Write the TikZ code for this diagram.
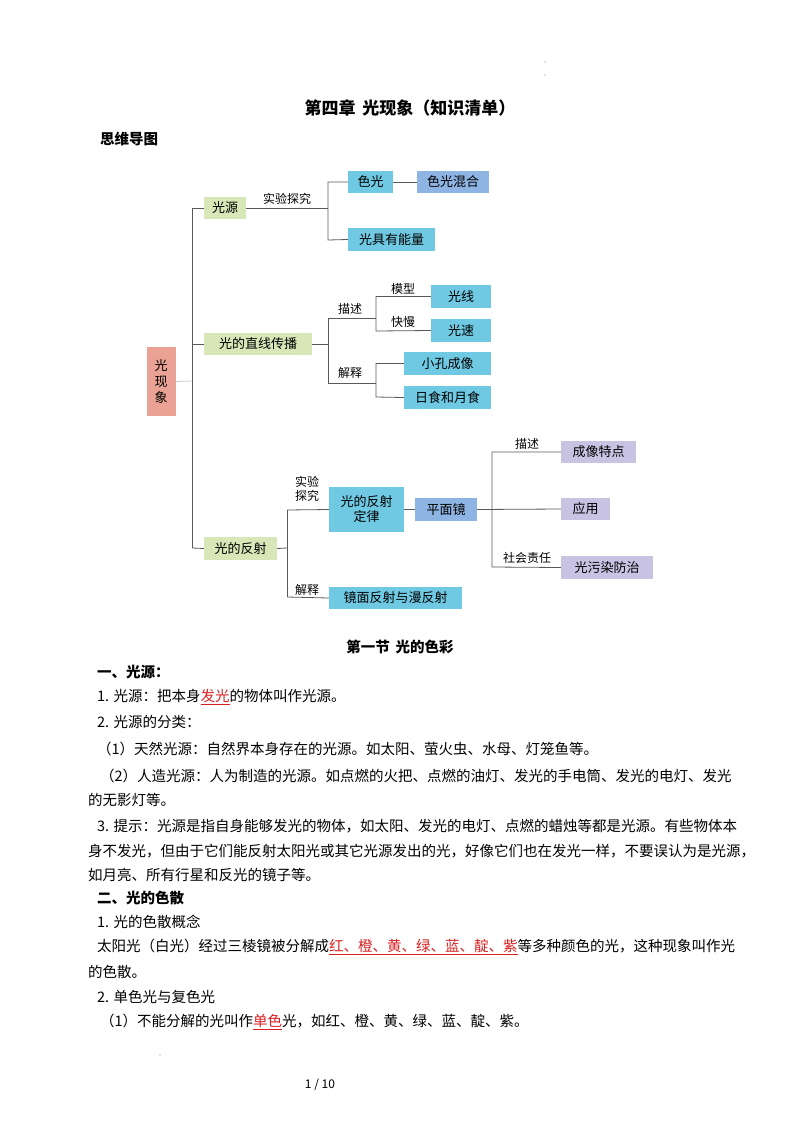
\documentclass[tikz,border=0pt]{standalone}
\usepackage{fontspec}
\setmainfont{Noto Sans CJK SC}
\newfontfamily\cjkb{Noto Sans CJK SC}[BoldFont={Noto Sans CJK SC Bold}]
\XeTeXlinebreaklocale "zh"
\definecolor{cRoot}{HTML}{E9A293}
\definecolor{cGreen}{HTML}{D7E7B8}
\definecolor{cCyan}{HTML}{70C9E2}
\definecolor{cBlue}{HTML}{8EB4E3}
\definecolor{cPurple}{HTML}{C8C3E3}
\definecolor{cRed}{HTML}{D92020}
\newcommand{\hlr}[1]{{\color{cRed}\underline{#1}}}
\tikzset{
  bx/.style={fill=#1, inner sep=0pt, font=\fontsize{13}{15}\selectfont},
  lbl/.style={font=\fontsize{12}{14}\selectfont, inner sep=1pt},
  ln/.style={draw=gray!70!black, line width=0.8pt},
  para/.style={anchor=west, inner sep=0pt, font=\fontsize{14.5}{17}\selectfont},
  hd/.style={anchor=west, inner sep=0pt, font=\fontsize{14.5}{17}\selectfont\bfseries},
}
\begin{document}
\begin{tikzpicture}[x=1pt,y=-1pt]
\useasboundingbox[fill=white] (0,0) rectangle (800,1132);
% title
\node[inner sep=0pt, font=\fontsize{17}{20}\selectfont\bfseries] (title) at (410,108) {第四章 \,光现象（知识清单）};
\node[hd] (mm) at (100,139) {思维导图};
% boxes
\newcommand{\bxn}[6]{\node[bx=#2, minimum width=#5-#3, minimum height=#6-#4] (#1) at ({(#3+#5)/2},{(#4+#6)/2})}
\bxn{root}{cRoot}{147}{347}{176}{416}{\parbox{14pt}{光\\[1pt]现\\[1pt]象}};
\bxn{gy}{cGreen}{204}{197}{246}{219}{光源};
\bxn{sg}{cCyan}{348}{171}{393}{193}{色光};
\bxn{sghh}{cBlue}{417}{171}{489}{193}{色光混合};
\bxn{nl}{cCyan}{348}{228}{435}{251}{光具有能量};
\bxn{zx}{cGreen}{204}{333}{312}{355}{光的直线传播};
\bxn{gx}{cCyan}{431}{285}{491}{308}{光线};
\bxn{gs}{cCyan}{431}{319}{491}{342}{光速};
\bxn{xk}{cCyan}{404}{352}{491}{375}{小孔成像};
\bxn{rs}{cCyan}{404}{386}{491}{409}{日食和月食};
\bxn{fs}{cGreen}{204}{537}{277}{560}{光的反射};
\bxn{dl}{cCyan}{329}{487}{404}{532}{\parbox{60pt}{\centering 光的反射\\定律}};
\bxn{pm}{cBlue}{415}{498}{477}{521}{平面镜};
\bxn{cx}{cPurple}{561}{441}{636}{463}{成像特点};
\bxn{yy}{cPurple}{561}{498}{610}{520}{应用};
\bxn{wr}{cPurple}{561}{556}{653}{579}{光污染防治};
\bxn{jm}{cCyan}{329}{587}{462}{609}{镜面反射与漫反射};
% junction coordinates
\coordinate (t0) at (192,208);
\coordinate (t1) at (192,548);
\coordinate (tr) at (192,381);
\draw[ln, draw=gray!40] (root.east) -- (tr);
\draw[ln] (t0) -- (t1);
\draw[ln] (t0) -- (gy.west);
\draw[ln] (192,344) -- (zx.west);
\draw[ln] (t1) -- (fs.west);
% 光源 branch
\draw[ln] (gy.east) -- (328,208);
\draw[ln] (sg.west) -| (328,240) -- (nl.west);
\draw[ln] (sg.east) -- (sghh.west);
\node[lbl] (l1) at (287,199) {实验探究};
% 直线传播
\draw[ln] (zx.east) -- (328,344);
\draw[ln] (328,318) -- (328,383);
\draw[ln] (328,318) -- (376,318);
\draw[ln] (328,383) -- (376,383);
\draw[ln] (gx.west) -| (376,331) -- (gs.west);
\draw[ln] (xk.west) -| (376,397) -- (rs.west);
\node[lbl] (l2) at (350,309) {描述};
\node[lbl] (l3) at (350,373) {解释};
\node[lbl] (l4) at (403,289) {模型};
\node[lbl] (l5) at (403,322) {快慢};
% 反射
\draw[ln] (fs.east) -- (287,548);
\draw[ln] (287,510) -- (287,597);
\draw[ln] (287,510) -- (dl.west);
\draw[ln] (287,597) -- (jm.west);
\draw[ln] (dl.east) -- (pm.west);
\draw[ln] (pm.east) -- (yy.west);
\draw[ln] (cx.west) -| (492,567) -- (wr.west);
\node[lbl, align=center] (l6) at (307,489) {实验\\探究};
\node[lbl] (l7) at (307,590) {解释};
\node[lbl] (l8) at (527,444) {描述};
\node[lbl] (l9) at (527,558) {社会责任};
% section
\node[inner sep=0pt, font=\fontsize{14.5}{17}\selectfont\bfseries] (sec) at (400,647) {第一节 \,光的色彩};
\node[hd] (h1) at (97,672) {一、光源：};
\node[para] (p1) at (97,697) {1. 光源：把本身\hlr{发光}的物体叫作光源。};
\node[para] (p2) at (97,722) {2. 光源的分类：};
\node[para] (p3) at (97,749) {（1）天然光源：自然界本身存在的光源。如太阳、萤火虫、水母、灯笼鱼等。};
\node[para] (p4) at (100,776) {（2）人造光源：人为制造的光源。如点燃的火把、点燃的油灯、发光的手电筒、发光的电灯、发光};
\node[para] (p5) at (88,800) {的无影灯等。};
\node[para] (p6) at (97,826) {3. 提示：光源是指自身能够发光的物体，如太阳、发光的电灯、点燃的蜡烛等都是光源。有些物体本};
\node[para] (p7) at (88,851) {身不发光，但由于它们能反射太阳光或其它光源发出的光，好像它们也在发光一样，不要误认为是光源，};
\node[para] (p8) at (88,875) {如月亮、所有行星和反光的镜子等。};
\node[hd] (h2) at (97,898) {二、光的色散};
\node[para] (p9) at (97,922) {1. 光的色散概念};
\node[para] (p10) at (97,947) {太阳光（白光）经过三棱镜被分解成\hlr{红、橙、黄、绿、蓝、靛、紫}等多种颜色的光，这种现象叫作光};
\node[para] (p11) at (88,972) {的色散。};
\node[para] (p12) at (97,997) {2. 单色光与复色光};
\node[para] (p13) at (100,1022) {（1）不能分解的光叫作\hlr{单色}光，如红、橙、黄、绿、蓝、靛、紫。};
\node[inner sep=0pt, font=\fontsize{12}{14}\selectfont] (pg) at (320,1085) {1 / 10};
\fill[gray] (545,62) circle (0.6) (545,75) circle (0.6) (160,1055) circle (0.6);
\end{tikzpicture}
\end{document}
